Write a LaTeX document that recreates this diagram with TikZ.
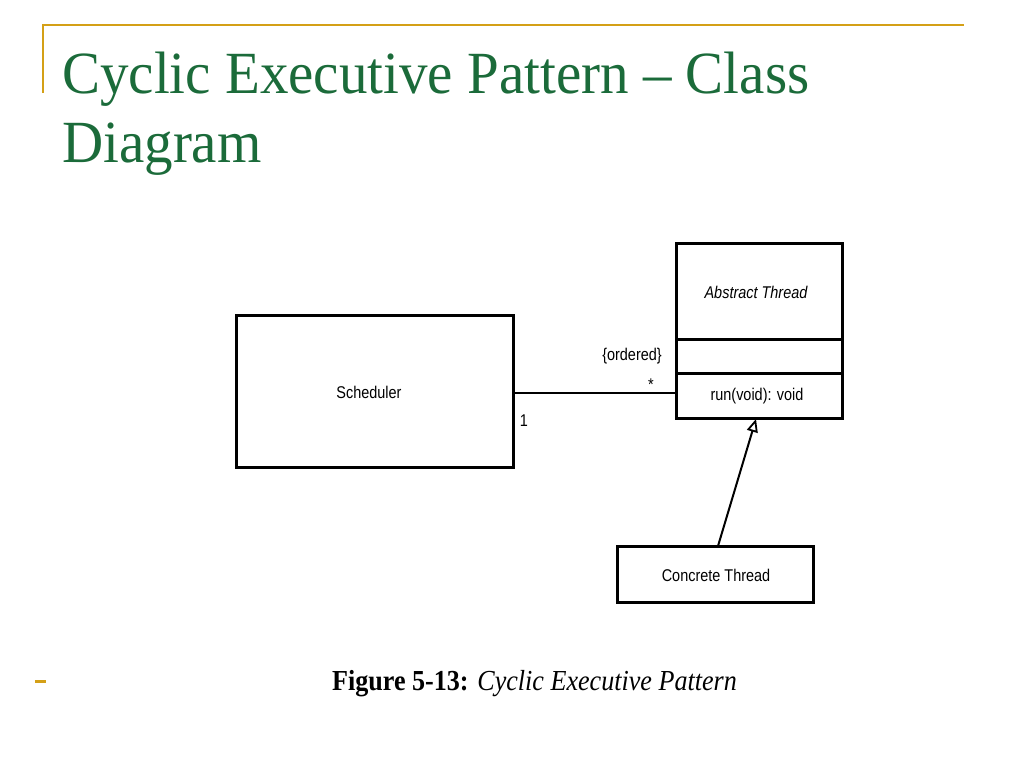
\documentclass[tikz,border=0pt]{standalone}
\usepackage{fontspec}
\setmainfont{Liberation Serif}
\setsansfont{Liberation Sans}
\usetikzlibrary{arrows.meta}
\definecolor{gold}{HTML}{D4A017}
\definecolor{titlegreen}{HTML}{1B6B3A}
\tikzset{
  umlbox/.style={draw=black, line width=3pt, fill=white},
  lbl/.style={font=\sffamily\fontsize{17}{19}\selectfont, inner sep=0pt, xscale=0.85},
  assoc/.style={draw=black, line width=2pt},
  gen/.style={draw=black, line width=2pt, -{Triangle[open, length=13pt, width=11pt, line width=1.8pt]}},
}
\begin{document}
\begin{tikzpicture}[x=1pt,y=-1pt]
\useasboundingbox (0,0) rectangle (1024,768);
% slide decoration
\draw[gold, line width=2pt] (42,25) -- (964,25);
\draw[gold, line width=2pt] (43,25) -- (43,93);
\draw[gold, line width=3pt] (35,681) -- (46,681);
% title
\node[anchor=base west, inner sep=0pt, text=titlegreen, font=\fontsize{57}{64}\selectfont, yscale=1.05] (t1) at (62,93) {Cyclic Executive Pattern – Class};
\node[anchor=base west, inner sep=0pt, text=titlegreen, font=\fontsize{57}{64}\selectfont, yscale=1.05] (t2) at (62,162) {Diagram};
% Abstract thread
\draw[umlbox] (676,243) rectangle (842,418);
\draw[line width=3pt] (676,339) -- (842,339);
\draw[line width=3pt] (676,373) -- (842,373);
\node[lbl, font=\sffamily\itshape\fontsize{17}{19}\selectfont] (absname) at (756,292) {Abstract Thread};
\node[lbl] (runop) at (757,396) {run(void): void};
\coordinate (atL) at (676,393);
\coordinate (atB) at (756,419);
% Scheduler
\node[umlbox, minimum width=277pt, minimum height=152pt, inner sep=0pt] (sched) at (374.5,391) {};
\node[lbl] (schedname) at (369,392) {Scheduler};
% association
\draw[assoc] (sched.east |- atL) -- (atL);
\node[lbl] (ordered) at (632,356) {\{ordered\}};
\node[lbl] (star) at (651,385) {*};
\node[lbl] (one) at (524,421) {1};
% Concrete thread
\node[umlbox, minimum width=196pt, minimum height=56pt, inner sep=0pt] (conc) at (715,574) {};
\node[lbl] (concname) at (716,575) {Concrete Thread};
\draw[gen] (718,546) -- (atB);
% caption
\node[anchor=base west, inner sep=0pt, font=\fontsize{29}{34}\selectfont, xscale=0.9] (cap) at (332,690) {\textbf{Figure 5-13:} \textit{Cyclic Executive Pattern}};
\end{tikzpicture}
\end{document}
